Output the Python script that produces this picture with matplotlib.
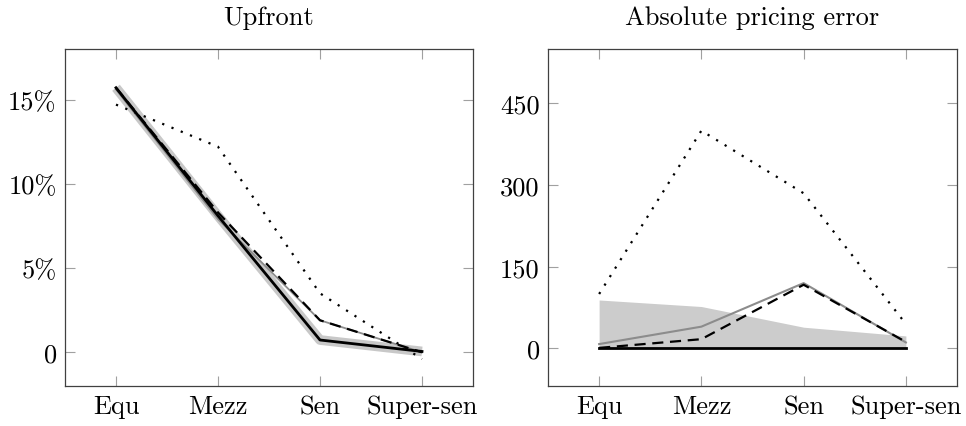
import matplotlib
matplotlib.use("Agg")
import matplotlib.pyplot as plt
import numpy as np

plt.rcParams['font.family'] = ['cmr10', 'DejaVu Serif']
plt.rcParams['axes.unicode_minus'] = False
plt.rcParams['mathtext.fontset'] = 'cm'

tranches = ["Equ", "Mezz", "Sen", "Super-sen"]

# Upfront (in %)
up_market = [15.7, 8.1, 0.73, 0.05]       # black solid + light gray band
up_gray = [15.6, 7.9, 1.9, 0.0]
up_dashed = [15.7, 8.3, 1.9, 0.0]
up_dotted = [14.7, 12.2, 3.5, -0.4]
up_ticks = [0, 5, 10, 15]
up_ticklabels = ["0", "5%", "10%", "15%"]

# Absolute pricing error
err_band = [89, 77, 39, 23]
err_black = [0, 0, 0, 0]
err_gray = [8, 40, 120, 11]
err_dashed = [1, 17, 117, 12]
err_dotted = [100, 400, 285, 45]
err_ticks = [0, 150, 300, 450]

fig = plt.figure(figsize=(9.66, 4.27), dpi=100)
ax1 = fig.add_axes([65 / 966, 1 - 387 / 427, 408 / 966, 337 / 427])
ax2 = fig.add_axes([548 / 966, 1 - 387 / 427, 409 / 966, 337 / 427])

x = np.arange(len(tranches))
fs = 19

# left panel
ax1.plot(x, up_market, color='#c8c8c8', lw=7, solid_capstyle='butt', zorder=1)
ax1.plot(x, up_gray, color='#8c8c8c', lw=1.3, zorder=2)
ax1.plot(x, up_dashed, color='black', lw=1.6, ls=(0, (5, 3)), zorder=3)
ax1.plot(x, up_dotted, color='black', lw=1.6, ls=(0, (1, 3.5)), zorder=3)
ax1.plot(x, up_market, color='black', lw=2.0, zorder=4)
ax1.set_ylim(-2, 18)
ax1.set_yticks(up_ticks)
ax1.set_yticklabels(up_ticklabels)
ax1.set_title("Upfront", fontsize=fs, pad=18)

# right panel
ax2.fill_between(x, 0, err_band, color='#cccccc', lw=0, zorder=1)
ax2.plot(x, err_gray, color='#8c8c8c', lw=1.5, zorder=2)
ax2.plot(x, err_dashed, color='black', lw=1.6, ls=(0, (5, 3)), zorder=3)
ax2.plot(x, err_dotted, color='black', lw=1.6, ls=(0, (1, 3.5)), zorder=3)
ax2.plot(x, err_black, color='black', lw=2.0, zorder=4)
ax2.set_ylim(-69, 550)
ax2.set_yticks(err_ticks)
ax2.set_yticklabels([str(t) for t in err_ticks])
ax2.set_title("Absolute pricing error", fontsize=fs, pad=18)

for ax in (ax1, ax2):
    ax.set_xlim(-0.5, 3.5)
    ax.set_xticks(x)
    ax.set_xticklabels(tranches)
    ax.tick_params(direction='in', length=7.5, width=0.8, color='#a0a0a0',
                   top=True, right=True, labelsize=fs, pad=6)
    for s in ax.spines.values():
        s.set_color('#404040')
        s.set_linewidth(0.9)

fig.savefig("out.png", dpi=100)
